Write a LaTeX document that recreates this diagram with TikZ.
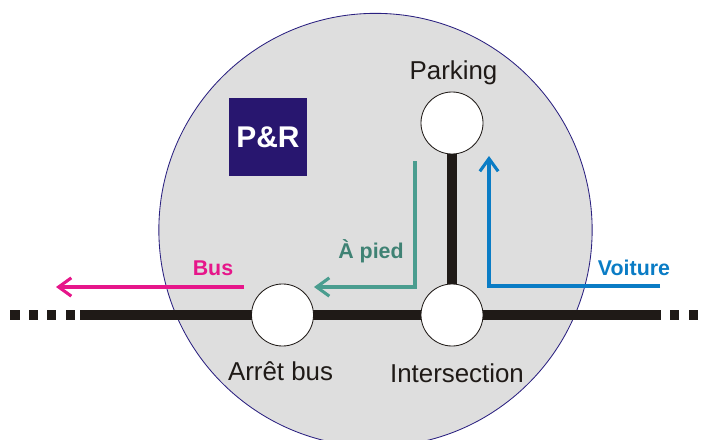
\documentclass[tikz,border=0pt]{standalone}
\usepackage{fontspec}
\setmainfont{Liberation Sans}
\usepackage{tikz}
\usetikzlibrary{arrows.meta}
\definecolor{zonegray}{HTML}{DEDEDE}
\definecolor{zoneblue}{HTML}{2A2080}
\definecolor{prblue}{HTML}{28166F}
\definecolor{trackblack}{HTML}{1F1A17}
\definecolor{buspink}{HTML}{E6168A}
\definecolor{walkteal}{HTML}{4A9D8F}
\definecolor{walktext}{HTML}{3F8274}
\definecolor{carblue}{HTML}{0A7CC5}

\begin{document}
\begin{tikzpicture}[x=0.025cm,y=-0.025cm]
	\tikzstyle{stop}=[circle,draw=trackblack,fill=white,line width=0.6pt,minimum size=1.55cm,inner sep=0pt]
	\tikzstyle{track}=[draw=trackblack,line width=7pt]
	\tikzstyle{dot}=[fill=trackblack,minimum size=0.23cm,inner sep=0pt]
	\tikzstyle{place}=[text=trackblack,font=\fontsize{18.4}{20}\selectfont]
	\tikzstyle{route}=[line width=2.2pt,-{Straight Barb[length=9pt,width=13pt,line width=2.2pt]}]
	\tikzstyle{tag}=[font=\fontsize{15.2}{17}\bfseries\selectfont]
	\clip (0,0) rectangle (704,440);
	\node[circle,draw=zoneblue,fill=zonegray,line width=0.6pt,minimum size=10.83cm,inner sep=0pt] (zone) at (375.5,230) {};
	\node[fill=prblue,text=white,minimum width=1.95cm,minimum height=1.97cm,inner sep=0pt,font=\fontsize{21.3}{23}\bfseries\selectfont] (pr) at (268,137) {P\&R};
	\coordinate (tl) at (80,315);
	\coordinate (tr) at (651,315);
	\draw[track] (tl) -- (tr);
	\foreach \i/\x in {a/15,b/33.5,c/51.5,d/70.5,e/656,f/674.5,g/693.5}
	{
		\node[dot] (dot\i) at (\x,315) {};
	}
	\node[stop] (parking) at (452,123) {};
	\node[stop] (bus) at (282.5,315) {};
	\node[stop] (inter) at (452,315) {};
	\draw[track,line width=6.5pt] (parking) -- (inter);
	\node[place] (lparking) at (453.5,73) {Parking};
	\node[place] (lbus) at (280.5,371) {Arrêt bus};
	\node[place] (linter) at (457,373) {Intersection};
	\coordinate (b1) at (244,287);
	\coordinate (b2) at (56,287);
	\draw[route,buspink] (b1) -- (b2);
	\coordinate (w1) at (415,161);
	\coordinate (w2) at (415,287);
	\coordinate (w3) at (314,287);
	\draw[route,walkteal] (w1) -- (w2) -- (w3);
	\coordinate (c1) at (660,286);
	\coordinate (c2) at (489,286);
	\coordinate (c3) at (489,156);
	\draw[route,carblue] (c1) -- (c2) -- (c3);
	\node[tag,text=buspink] (lb) at (213,268) {Bus};
	\node[tag,text=walktext] (lw) at (371,251) {À pied};
	\node[tag,text=carblue] (lc) at (634,268) {Voiture};
\end{tikzpicture}
\end{document}
